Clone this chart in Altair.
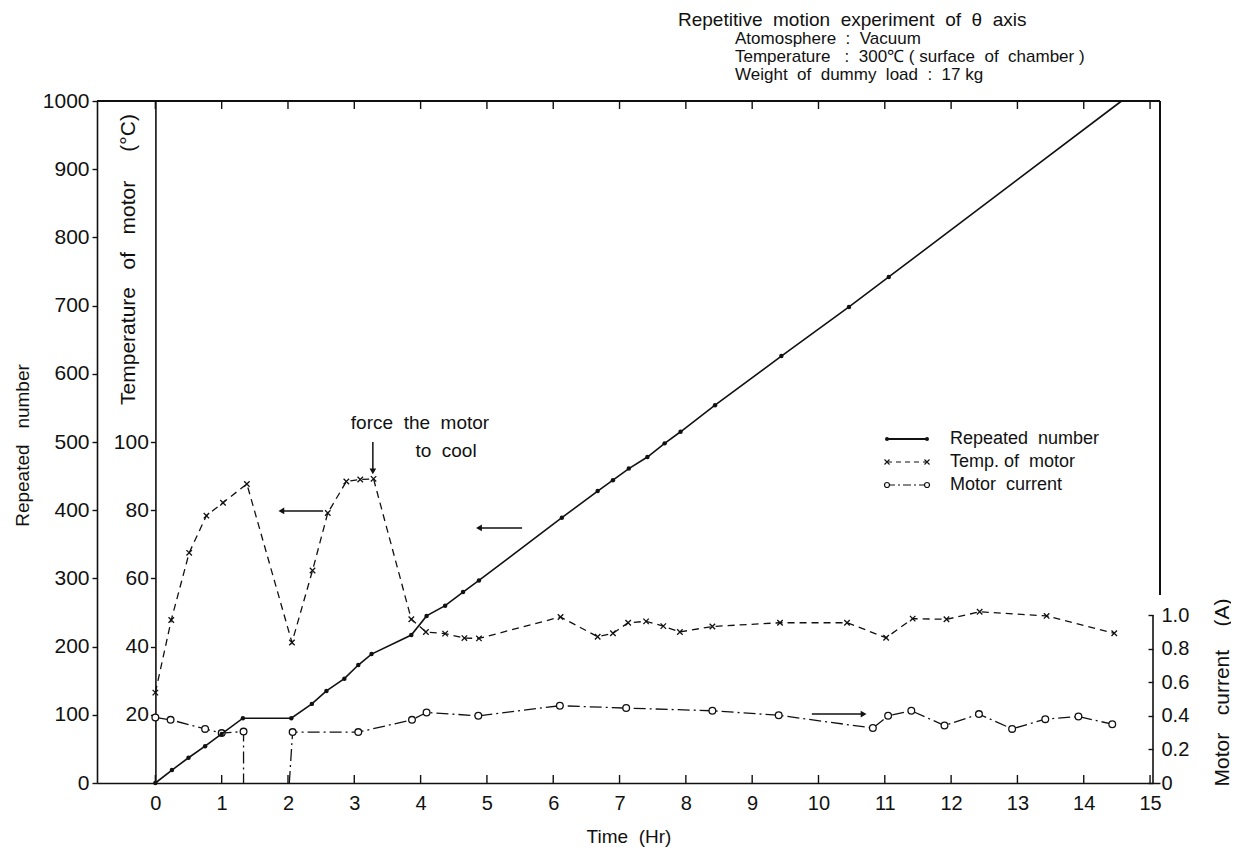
import altair as alt
import pandas as pd

# ---------------- data ----------------
# Repeated number (left axis)
rep_t = [0, 0.25, 0.5, 0.75, 1.0, 1.32, 2.05, 2.36, 2.58, 2.85, 3.06, 3.26, 3.86, 4.09,
         4.37, 4.64, 4.88, 6.13, 6.67, 6.9, 7.14, 7.42, 7.68, 7.92, 8.44, 9.44, 10.46, 11.06, 14.57]
rep_n = [0, 19, 37, 54, 72, 95, 95, 116, 135, 153, 173, 189, 217, 245,
         260, 280, 297, 389, 428, 444, 461, 478, 498, 515, 554, 626, 698, 742, 1000]
rep_mark = [True] * 28 + [False]

# Temperature of motor (deg C)
temp_t = [0, 0.24, 0.51, 0.77, 1.02, 1.38, 2.06, 2.37, 2.6, 2.88, 3.09, 3.29, 3.86, 4.08,
          4.37, 4.66, 4.88, 6.11, 6.67, 6.9, 7.13, 7.4, 7.66, 7.91, 8.4, 9.42, 10.43, 11.02,
          11.42, 11.93, 12.43, 13.44, 14.46]
temp_v = [26.5, 47.8, 67.5, 78.4, 82.2, 87.7, 41.2, 62.3, 79.2, 88.4, 89.0, 89.2, 48.0, 44.3,
          43.8, 42.5, 42.4, 48.7, 42.9, 43.9, 47.0, 47.4, 46.0, 44.3, 45.9, 47.0, 47.0, 42.6,
          48.2, 48.0, 50.2, 49.0, 43.9]

# Motor current (A)
cur_t = [0, 0.23, 0.75, 1.0, 1.33, 1.33, 2.02, 2.07, 3.06, 3.87, 4.09, 4.87, 6.1, 7.1, 8.4,
         9.4, 10.82, 11.05, 11.4, 11.9, 12.42, 12.92, 13.42, 13.92, 14.43]
cur_a = [0.39, 0.376, 0.322, 0.297, 0.306, 0.0, 0.0, 0.303, 0.303, 0.376, 0.42, 0.40, 0.46,
         0.446, 0.43, 0.403, 0.327, 0.40, 0.43, 0.342, 0.41, 0.322, 0.38, 0.396, 0.35]
cur_seg = [1, 1, 1, 1, 1, 1, 2, 2, 2, 2, 2, 2, 2, 2, 2, 2, 2, 2, 2, 2, 2, 2, 2, 2, 2]
cur_mark = [True, True, True, True, True, False, False] + [True] * 18

hours = list(range(16))
rep_ticks = list(range(0, 1001, 100))
temp_ticks = [20, 40, 60, 80, 100]
cur_ticks = [0, 0.2, 0.4, 0.6, 0.8, 1.0]

# arrows (in repeated-number units)
arrow_t = [2.53, 5.53, 9.90, 3.28]
arrow_t2 = [1.90, 4.88, 10.68, 3.28]
arrow_r = [399, 374, 101, 500]
arrow_r2 = [399, 374, 101, 457]
arrow_head = ["triangle-left", "triangle-left", "triangle-right", "triangle-down"]

NB = "\u00a0"
header_lines = [NB.join(["Repetitive", "", "motion", "", "experiment", "", "of", "", "\u03b8", "", "axis"]),
                "Atomosphere" + NB * 2 + ":" + NB * 2 + "Vacuum",
                "Temperature" + NB * 3 + ":" + NB * 2 + "300\u2103" + NB + "(" + NB + "surface" + NB * 2 + "of" + NB * 2 + "chamber" + NB + ")",
                "Weight" + NB * 2 + "of" + NB * 2 + "dummy" + NB * 2 + "load" + NB * 2 + ":" + NB * 2 + "17" + NB + "kg"]
legend_labels = ["Repeated" + NB * 2 + "number", "Temp." + NB + "of" + NB * 2 + "motor", "Motor" + NB * 2 + "current"]
note_lines = ["force" + NB * 2 + "the" + NB * 2 + "motor", "to" + NB * 2 + "cool"]

# ---------------- frames ----------------
rep_df = pd.DataFrame({"t": rep_t, "rep": rep_n, "m": rep_mark})
temp_df = pd.DataFrame({"t": temp_t, "temp": temp_v})
cur_df = pd.DataFrame({"t": cur_t, "cur": cur_a, "seg": cur_seg, "m": cur_mark})
hour_df = pd.DataFrame({"t": hours})
arrow_df = pd.DataFrame({"t": arrow_t, "t2": arrow_t2, "rep": arrow_r, "rep2": arrow_r2,
                         "head": arrow_head})

W, H = 1063, 682
FONT = "Liberation Sans Narrow, Liberation Sans, Arial, sans-serif"
FONT2 = "Liberation Sans, Arial, sans-serif"
INK = "#111111"

xscale = alt.Scale(domain=[-0.88, 15.15], nice=False, zero=False)
xaxis = alt.Axis(values=hours, ticks=False, domain=True, domainColor=INK, domainWidth=1.6,
                 grid=False, labelFont=FONT, labelFontSize=20, labelPadding=10, labelColor=INK,
                 labelFlush=False, title="Time" + NB * 2 + "(Hr)", titleFont=FONT, titleFontSize=19,
                 titleFontWeight="normal", titleColor=INK, titlePadding=14)
X = alt.X("t:Q", scale=xscale, axis=xaxis)

rep_axis = alt.Axis(orient="left", values=rep_ticks, format="d", tickSize=5, tickColor=INK,
                    tickWidth=1.4, domainColor=INK, domainWidth=1.6, grid=False, labelFont=FONT2,
                    labelFontSize=21, labelPadding=3, labelColor=INK,
                    title="Repeated" + NB * 3 + "number",
                    titleFont=FONT, titleFontSize=19, titleFontWeight="normal", titleColor=INK,
                    titleX=-75, titleY=344, titleAngle=270, titleAlign="center",
                    titleBaseline="middle")
Yrep = alt.Y("rep:Q", scale=alt.Scale(domain=[0, 1000], nice=False), axis=rep_axis)

temp_axis = alt.Axis(orient="left", offset=-58.4, values=temp_ticks, tickSize=5, tickColor=INK,
                     tickWidth=1.4, domainColor=INK, domainWidth=1.6, grid=False, labelFont=FONT2,
                     labelFontSize=21, labelPadding=2, labelColor=INK,
                     title="Temperature" + NB * 3 + "of" + NB * 3 + "motor" + NB * 5 + "(\u00b0C)",
                     titleFont=FONT, titleFontSize=21, titleFontWeight="normal", titleColor=INK,
                     titleX=-27, titleY=158, titleAngle=270, titleAlign="center",
                     titleBaseline="middle")
Ytemp = alt.Y("temp:Q", scale=alt.Scale(domain=[0, 200], nice=False), axis=temp_axis)

cur_axis = alt.Axis(orient="right", offset=-12, values=cur_ticks, domain=False, tickSize=5,
                    tickColor=INK, tickWidth=1.4, grid=False, labelFont=FONT2, labelFontSize=20,
                    labelPadding=8, labelColor=INK,
                    labelExpr="datum.value == 0 ? '0' : format(datum.value, '.1f')",
                    title="Motor" + NB * 3 + "current" + NB * 4 + "(A)", titleFont=FONT,
                    titleFontSize=21, titleFontWeight="normal", titleColor=INK, titleX=74,
                    titleY=591, titleAngle=270, titleAlign="center", titleBaseline="middle")
Ycur = alt.Y("cur:Q", scale=alt.Scale(domain=[0, 682 / 168], nice=False), axis=cur_axis)


def text_at(s, x, y, size=18, align="left", font=FONT):
    return alt.Chart(pd.DataFrame({"s": [s]})).mark_text(
        align=align, baseline="middle", font=font, fontSize=size, color=INK
    ).encode(text="s:N", x=alt.value(x), y=alt.value(y))


# ---------------- layer A: repeated number + decorations ----------------
rep_line = alt.Chart(rep_df).mark_line(color=INK, strokeWidth=1.6).encode(x=X, y=Yrep)
rep_pts = alt.Chart(rep_df).transform_filter("datum.m").mark_point(
    filled=True, size=20, color=INK, opacity=1).encode(x=X, y=Yrep)

top_frame = alt.Chart(hour_df).mark_rule(color=INK, strokeWidth=1.6).encode(
    x=alt.value(0), x2=alt.value(W), y=alt.value(0))
right_frame = alt.Chart(hour_df).mark_rule(color=INK, strokeWidth=1.6).encode(
    x=alt.value(W), y=alt.value(0), y2=alt.value(494))
top_ticks = alt.Chart(hour_df).mark_rule(color=INK, strokeWidth=1.4).encode(
    x=X, y=alt.value(0), y2=alt.value(8))
bot_ticks = alt.Chart(hour_df).mark_rule(color=INK, strokeWidth=1.4).encode(
    x=X, y=alt.value(H - 8), y2=alt.value(H))

arrows = alt.Chart(arrow_df).mark_rule(color=INK, strokeWidth=1.5).encode(
    x=X, x2="t2:Q", y=Yrep, y2="rep2:Q")
heads = alt.Chart(arrow_df).mark_point(filled=True, size=45, color=INK, opacity=1).encode(
    x=alt.X("t2:Q", scale=xscale, axis=xaxis),
    y=alt.Y("rep2:Q", scale=alt.Scale(domain=[0, 1000], nice=False), axis=rep_axis),
    shape=alt.Shape("head:N", scale=None))

# legend (drawn by hand like the original)
leg_x0, leg_x1, leg_tx = 790, 830, 853
leg_y = [338, 361, 384]
leg_src = pd.DataFrame({"k": [0]})
legend_layers = []
legend_layers.append(alt.Chart(leg_src).mark_rule(color=INK, strokeWidth=1.8).encode(
    x=alt.value(leg_x0), x2=alt.value(leg_x1), y=alt.value(leg_y[0])))
for xx in (leg_x0, leg_x1):
    legend_layers.append(alt.Chart(leg_src).mark_point(filled=True, size=16, color=INK, opacity=1)
                         .encode(x=alt.value(xx), y=alt.value(leg_y[0])))
legend_layers.append(alt.Chart(leg_src).mark_rule(color=INK, strokeWidth=1.2, strokeDash=[5, 4]).encode(
    x=alt.value(leg_x0), x2=alt.value(leg_x1), y=alt.value(leg_y[1])))
for xx in (leg_x0, leg_x1):
    legend_layers.append(alt.Chart(leg_src).mark_point(
        shape="M-1,-1L1,1M-1,1L1,-1", filled=False, size=25, color=INK, strokeWidth=1.1, opacity=1)
        .encode(x=alt.value(xx), y=alt.value(leg_y[1])))
legend_layers.append(alt.Chart(leg_src).mark_rule(color=INK, strokeWidth=1.2, strokeDash=[8, 3, 2, 3]).encode(
    x=alt.value(leg_x0), x2=alt.value(leg_x1), y=alt.value(leg_y[2])))
for xx in (leg_x0, leg_x1):
    legend_layers.append(alt.Chart(leg_src).mark_point(
        shape="circle", filled=True, fill="white", stroke=INK, strokeWidth=1.2, size=25, opacity=1)
        .encode(x=alt.value(xx), y=alt.value(leg_y[2])))
for lab, yy in zip(legend_labels, leg_y):
    legend_layers.append(text_at(lab, leg_tx, yy, size=18))

texts = [
    text_at(header_lines[0], 581, -81, size=19),
    text_at(header_lines[1], 638, -62, size=17),
    text_at(header_lines[2], 638, -44, size=17),
    text_at(header_lines[3], 638, -26, size=17),
    text_at(note_lines[0], 323, 322, size=19, align="center"),
    text_at(note_lines[1], 349, 350, size=19, align="center"),
]

layer_a = alt.layer(rep_line, rep_pts, top_frame, right_frame, top_ticks, bot_ticks,
                    arrows, heads, *legend_layers, *texts)

# ---------------- layer B: temperature ----------------
temp_line = alt.Chart(temp_df).mark_line(color=INK, strokeWidth=1.3, strokeDash=[7, 5]).encode(
    x=X, y=Ytemp)
temp_pts = alt.Chart(temp_df).mark_point(
    shape="M-1,-1L1,1M-1,1L1,-1", filled=False, size=30, color=INK, strokeWidth=1.3, opacity=1
).encode(x=X, y=Ytemp)
layer_b = alt.layer(temp_line, temp_pts)

# ---------------- layer C: motor current ----------------
cur_line = alt.Chart(cur_df).mark_line(color=INK, strokeWidth=1.3, strokeDash=[12, 4, 2, 4]).encode(
    x=X, y=Ycur, detail="seg:N")
cur_pts = alt.Chart(cur_df).transform_filter("datum.m").mark_point(
    shape="circle", filled=True, fill="white", stroke=INK, strokeWidth=1.3, size=45, opacity=1
).encode(x=X, y=Ycur)
cur_axis_line = alt.Chart(pd.DataFrame({"lo": [cur_ticks[0]], "hi": [cur_ticks[-1]]})).mark_rule(
    color=INK, strokeWidth=1.6).encode(
    x=alt.value(W - 7),
    y=alt.Y("lo:Q", scale=alt.Scale(domain=[0, 682 / 168], nice=False), axis=cur_axis),
    y2="hi:Q")
layer_c = alt.layer(cur_line, cur_pts, cur_axis_line)

chart = alt.layer(layer_c, layer_b, layer_a).resolve_scale(y="independent").properties(
    width=W, height=H,
    padding={"left": 89, "top": 93, "right": 71, "bottom": 68},
    autosize=alt.AutoSizeParams(type="none"),
    background="white",
).configure_view(stroke=None)

chart.save("out.html", embed_options={"renderer": "svg", "actions": False})
